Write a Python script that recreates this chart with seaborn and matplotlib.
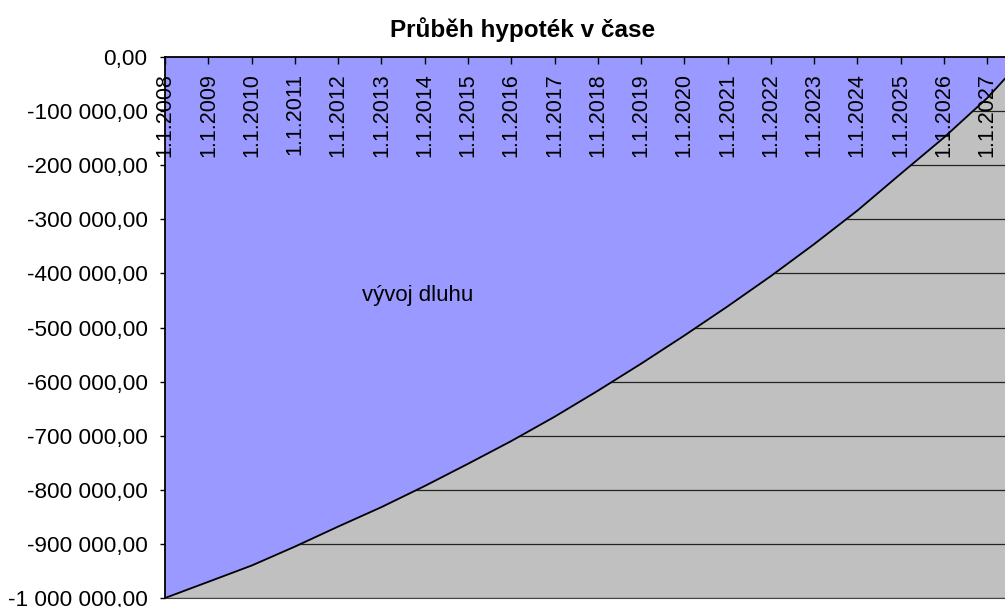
import numpy as np
import pandas as pd
import matplotlib
matplotlib.use("Agg")
import matplotlib.pyplot as plt
from matplotlib.ticker import FuncFormatter
import seaborn as sns

# debt balance on 1 January of each year, plus the last month shown
dates = [f"{y}-01-01" for y in range(2008, 2028)] + ["2027-06-01"]
debt = [-1000000, -970000, -940000, -905000, -868000, -832000, -793000,
        -752000, -710000, -665000, -617000, -567000, -515000, -461000,
        -405000, -346000, -284000, -216000, -149000, -76000, -40000]
year_labels = [f"1.1.{y}" for y in range(2008, 2028)]
title = "Průběh hypoték v čase"
area_label = "vývoj dluhu"

sns.set_style("white")
plt.rcParams["font.family"] = ["Liberation Sans", "DejaVu Sans"]
plt.rcParams["text.color"] = "black"
plt.rcParams["xtick.color"] = "black"
plt.rcParams["ytick.color"] = "black"

df = pd.DataFrame({"date": pd.to_datetime(dates), "debt": debt})

fig = plt.figure(figsize=(10.05, 6.07), dpi=100)
ax = fig.add_axes([0.1642, 0.0148, 0.8358, 0.8913])
ax.set_facecolor("#C0C0C0")
ax.set_axisbelow(False)

# gridlines first so the blue area covers them
for v in np.arange(-1000000, 0, 100000):
    ax.axhline(v, color="#222222", lw=0.9, zorder=0)

ax.fill_between(df["date"], 0, df["debt"], color="#9999FF", zorder=1, lw=0)
sns.lineplot(data=df, x="date", y="debt", color="black", lw=1.3, ax=ax, zorder=2)

ax.set_xlim(df["date"].iloc[0], df["date"].iloc[-1])
ax.set_ylim(-1000000, 0)
ax.set_xlabel("")
ax.set_ylabel("")

# y axis: Czech number format
ax.set_yticks(np.arange(-1000000, 1, 100000))
ax.yaxis.set_major_formatter(FuncFormatter(
    lambda v, p: f"{v:,.2f}".replace(",", " ").replace(".", ",")))
ax.tick_params(axis="y", direction="out", length=3.6, width=1, pad=9,
               labelsize=16.2, left=True)

# x axis sits at the top, labels hang down inside the plot
ticks = pd.to_datetime([f"{y}-01-01" for y in range(2008, 2028)])
ax.set_xticks(ticks)
ax.set_xticklabels(year_labels, rotation=90)
ax.tick_params(axis="x", top=True, bottom=False, labeltop=True, labelbottom=False,
               direction="in", length=5, width=1, pad=-11.5, labelsize=15.5)
for lbl in ax.get_xticklabels():
    lbl.set_va("top")

for side in ["top", "left"]:
    ax.spines[side].set_color("black")
    ax.spines[side].set_linewidth(1.3)
    ax.spines[side].set_zorder(3)
ax.spines["right"].set_visible(False)
ax.spines["bottom"].set_color("#444444")

ax.text(pd.Timestamp("2013-11-06"), -441000, area_label, fontsize=16,
        ha="center", va="center", zorder=3)

fig.text(0.52, 0.951, title, fontsize=17.5, fontweight="bold",
         ha="center", va="center")

fig.savefig("out.png", dpi=100)
